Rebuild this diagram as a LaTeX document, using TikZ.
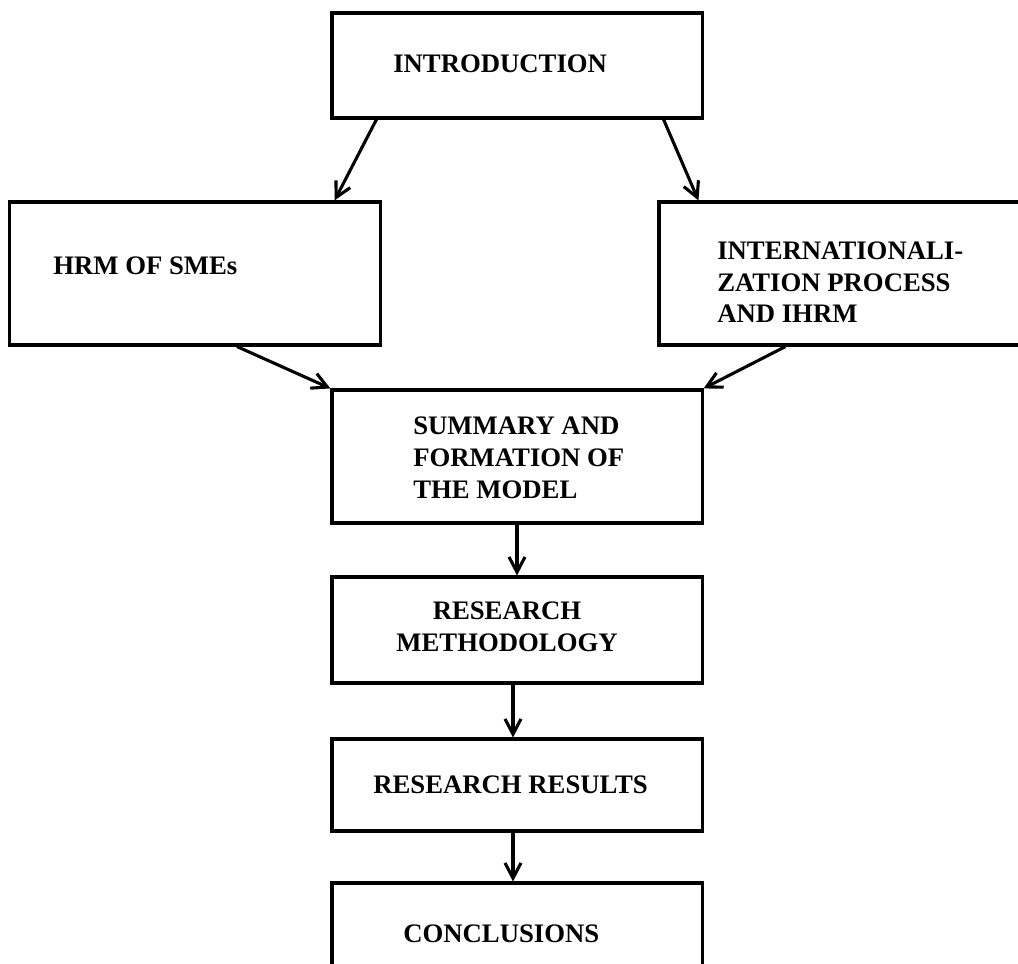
\documentclass[tikz,border=0pt]{standalone}
\usepackage{fontspec}
\setmainfont{Liberation Serif}
\usetikzlibrary{arrows.meta}

\begin{document}
\begin{tikzpicture}[x=0.025cm,y=-0.025cm,
	box/.style={draw,line width=2.2pt,rectangle,minimum width=9.25cm,inner sep=0pt},
	lbl/.style={font=\fontsize{19}{22.7}\selectfont\bfseries,inner sep=0pt,align=left,anchor=base west},
	arr/.style={line width=2.2pt,-{Straight Barb[length=3.8mm,width=4mm]}}]
				\useasboundingbox (0,0) rectangle (1018,964);
				
				\node[box,minimum height=2.625cm] (intro) at (517,65.5) {};
				\node[box,minimum height=3.575cm] (hrm) at (195,273.5) {};
				\node[box,minimum height=3.575cm] (intl) at (844,273.5) {};
				\node[box,minimum height=3.325cm] (summ) at (517,456.5) {};
				\node[box,minimum height=2.65cm] (meth) at (517,630) {};
				\node[box,minimum height=2.3cm] (res) at (517,785) {};
				\node[box,minimum height=2.65cm] (concl) at (517,936) {};
				
				\node[lbl] (introtxt) at (393,73) {INTRODUCTION};
				\node[lbl] (hrmtxt) at (53,275) {HRM OF SMEs};
				\node[lbl] (intltxt) at (717,323) {INTERNATIONALI-\\ZATION PROCESS\\AND IHRM};
				\node[lbl] (summtxt) at (413,498) {SUMMARY AND\\FORMATION OF\\THE MODEL};
				\node[lbl,align=center,anchor=base] (methtxt) at (507,651) {RESEARCH\\METHODOLOGY};
				\node[lbl] (restxt) at (373,793) {RESEARCH RESULTS};
				\node[lbl] (conctxt) at (403,942) {CONCLUSIONS};
				
				\draw[arr] ([xshift=1.15cm]intro.south west) -- ([xshift=-1.175cm]hrm.north east);
				\draw[arr] ([xshift=-1cm]intro.south east) -- ([xshift=1.025cm]intl.north west);
				\draw[arr] ([xshift=1.05cm]hrm.south) -- (summ.north west);
				\draw[arr] ([xshift=3.2cm]intl.south west) -- (summ.north east);
				\draw[arr] (summ) -- (meth);
				\draw[arr] ([xshift=-0.1cm]meth.south) -- ([xshift=-0.1cm]res.north);
				\draw[arr] ([xshift=-0.1cm]res.south) -- ([xshift=-0.1cm]concl.north);
			\end{tikzpicture}
\end{document}
